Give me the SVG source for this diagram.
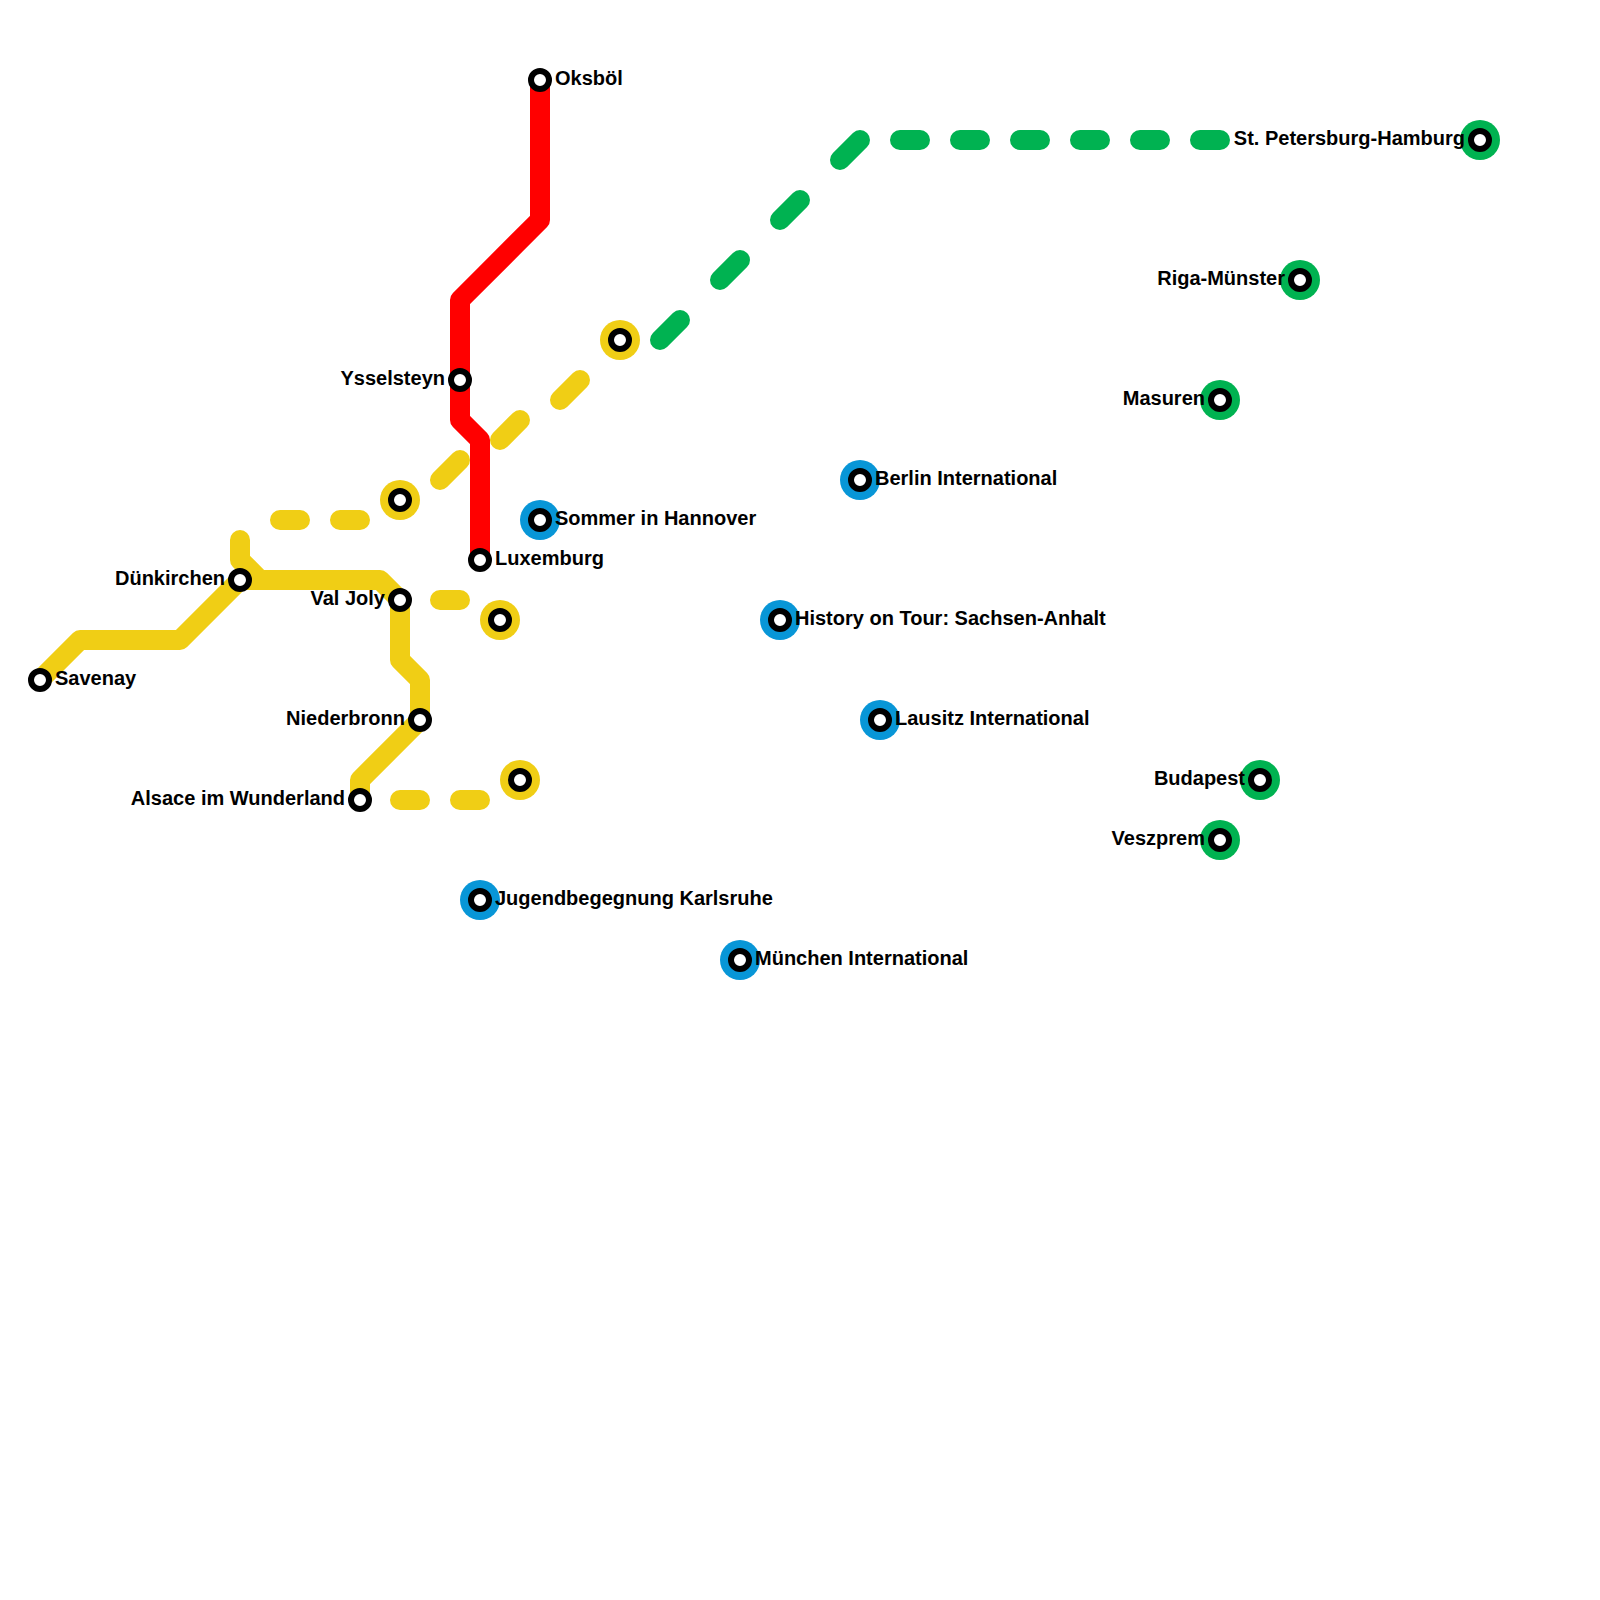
<svg xmlns="http://www.w3.org/2000/svg" width="1600" height="1600" viewBox="0 0 1600 1600">
<style>
.line{fill:none;stroke-width:20;stroke-linecap:round;stroke-linejoin:round}
.red{stroke:#ff0000}.yellow{stroke:#f0ce15}.green{stroke:#00b251}
.ringy{fill:#f0ce15}.ringb{fill:#0896d7}.ringg{fill:#00b251}
.dot{fill:#fff;stroke:#000;stroke-width:6}
text{font-family:"Liberation Sans",Arial,sans-serif;font-weight:700;font-size:20px;fill:#000}
.l{text-anchor:end}
</style>
<rect width="1600" height="1600" fill="#fff"/>
<g id="connectors">
<path class="line yellow" d="M40 680L80 640H180L240 580H380L400 600V660L420 680V720L360 780V800M240 540V560L260 580"/>
<path class="line yellow" d="M280 520H300M340 520H360M440 480L460 460M500 440L520 420M560 400L580 380M440 600H460M400 800H420M460 800H480"/>
<path class="line green" d="M660 340L680 320M720 280L740 260M780 220L800 200M840 160L860 140M900 140H920M960 140H980M1020 140H1040M1080 140H1100M1140 140H1160M1200 140H1220"/>
<path class="line red" d="M540 80V220L460 300V420L480 440V560"/>
</g>
<g id="n-oksbol"><circle class="dot" cx="540" cy="80" r="9"/><text x="555" y="85">Oksböl</text></g>
<g id="n-ysselsteyn"><circle class="dot" cx="460" cy="380" r="9"/><text class="l" x="445" y="385">Ysselsteyn</text></g>
<g id="n-luxemburg"><circle class="dot" cx="480" cy="560" r="9"/><text x="495" y="565">Luxemburg</text></g>
<g id="n-savenay"><circle class="dot" cx="40" cy="680" r="9"/><text x="55" y="685">Savenay</text></g>
<g id="n-dunkirchen"><circle class="dot" cx="240" cy="580" r="9"/><text class="l" x="225" y="585">Dünkirchen</text></g>
<g id="n-valjoly"><circle class="dot" cx="400" cy="600" r="9"/><text class="l" x="385" y="605">Val Joly</text></g>
<g id="n-niederbronn"><circle class="dot" cx="420" cy="720" r="9"/><text class="l" x="405" y="725">Niederbronn</text></g>
<g id="n-alsace"><circle class="dot" cx="360" cy="800" r="9"/><text class="l" x="345" y="805">Alsace im Wunderland</text></g>
<g id="n-y1"><circle class="ringy" cx="400" cy="500" r="20"/><circle class="dot" cx="400" cy="500" r="9"/></g>
<g id="n-y2"><circle class="ringy" cx="620" cy="340" r="20"/><circle class="dot" cx="620" cy="340" r="9"/></g>
<g id="n-y3"><circle class="ringy" cx="500" cy="620" r="20"/><circle class="dot" cx="500" cy="620" r="9"/></g>
<g id="n-y4"><circle class="ringy" cx="520" cy="780" r="20"/><circle class="dot" cx="520" cy="780" r="9"/></g>
<g id="n-sommer"><circle class="ringb" cx="540" cy="520" r="20"/><circle class="dot" cx="540" cy="520" r="9"/><text x="555" y="525">Sommer in Hannover</text></g>
<g id="n-berlin"><circle class="ringb" cx="860" cy="480" r="20"/><circle class="dot" cx="860" cy="480" r="9"/><text x="875" y="485">Berlin International</text></g>
<g id="n-history"><circle class="ringb" cx="780" cy="620" r="20"/><circle class="dot" cx="780" cy="620" r="9"/><text x="795" y="625">History on Tour: Sachsen-Anhalt</text></g>
<g id="n-lausitz"><circle class="ringb" cx="880" cy="720" r="20"/><circle class="dot" cx="880" cy="720" r="9"/><text x="895" y="725">Lausitz International</text></g>
<g id="n-jugend"><circle class="ringb" cx="480" cy="900" r="20"/><circle class="dot" cx="480" cy="900" r="9"/><text x="495" y="905">Jugendbegegnung Karlsruhe</text></g>
<g id="n-munchen"><circle class="ringb" cx="740" cy="960" r="20"/><circle class="dot" cx="740" cy="960" r="9"/><text x="755" y="965">München International</text></g>
<g id="n-stpete"><circle class="ringg" cx="1480" cy="140" r="20"/><circle class="dot" cx="1480" cy="140" r="9"/><text class="l" x="1465" y="145">St. Petersburg-Hamburg</text></g>
<g id="n-riga"><circle class="ringg" cx="1300" cy="280" r="20"/><circle class="dot" cx="1300" cy="280" r="9"/><text class="l" x="1285" y="285">Riga-Münster</text></g>
<g id="n-masuren"><circle class="ringg" cx="1220" cy="400" r="20"/><circle class="dot" cx="1220" cy="400" r="9"/><text class="l" x="1205" y="405">Masuren</text></g>
<g id="n-budapest"><circle class="ringg" cx="1260" cy="780" r="20"/><circle class="dot" cx="1260" cy="780" r="9"/><text class="l" x="1245" y="785">Budapest</text></g>
<g id="n-veszprem"><circle class="ringg" cx="1220" cy="840" r="20"/><circle class="dot" cx="1220" cy="840" r="9"/><text class="l" x="1205" y="845">Veszprem</text></g>
</svg>
